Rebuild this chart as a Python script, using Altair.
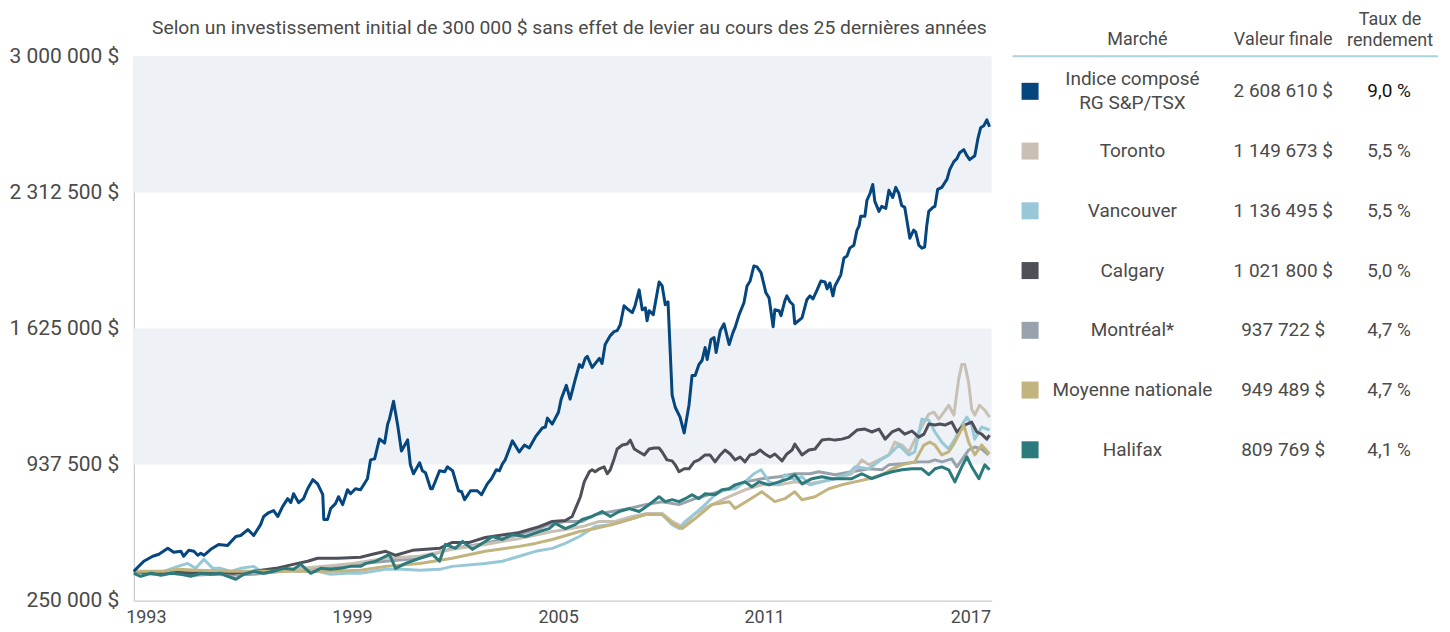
import altair as alt
import pandas as pd

FONT = "Roboto"
TXT = "#4a4a4a"

TITLE = "Selon un investissement initial de 300 000 $ sans effet de levier au cours des 25 dernières années"

x_ticks = [1993, 1999, 2005, 2011, 2017]
y_ticks = [250000, 937500, 1625000, 2312500, 3000000]
band_lo = [937500, 2312500]
band_hi = [1625000, 3000000]

markets = ["Indice composé\nRG S&P/TSX", "Toronto", "Vancouver", "Calgary",
           "Montréal*", "Moyenne nationale", "Halifax"]
final_values = [2608610, 1149673, 1136495, 1021800, 937722, 949489, 809769]
rates = ["9,0 %", "5,5 %", "5,5 %", "5,0 %", "4,7 %", "4,7 %", "4,1 %"]
colors = ["#05467e", "#c9c0b5", "#98c8d7", "#4d5059", "#98a2ac", "#c2b47e", "#2c7a7c"]
rate_colors = ["#111111", TXT, TXT, TXT, TXT, TXT, TXT]
headers = ["Marché", "Valeur finale", "Taux de\nrendement"]

# values in thousands of dollars
tsx_years = [1992.65,1992.94,1993.20,1993.38,1993.64,1993.81,1994.02,1994.10,1994.25,1994.40,
 1994.51,1994.60,1994.69,1994.89,1995.12,1995.38,1995.62,1995.76,1995.97,1996.14,
 1996.34,1996.43,1996.58,1996.72,1996.84,1996.98,1997.13,1997.22,1997.30,1997.45,
 1997.59,1997.71,1997.86,1998.00,1998.15,1998.18,1998.29,1998.38,1998.52,1998.61,
 1998.73,1998.87,1998.96,1999.10,1999.25,1999.45,1999.54,1999.66,1999.80,1999.95,
 2000.04,2000.09,2000.21,2000.33,2000.44,2000.62,2000.70,2000.79,2000.97,2001.05,
 2001.14,2001.29,2001.34,2001.55,2001.70,2001.78,2001.93,2002.10,2002.19,2002.28,
 2002.45,2002.65,2002.77,2002.94,2003.06,2003.20,2003.29,2003.38,2003.46,2003.67,
 2003.87,2004.02,2004.16,2004.34,2004.54,2004.63,2004.69,2004.83,2005.01,2005.09,
 2005.24,2005.35,2005.50,2005.62,2005.70,2005.79,2005.85,2005.99,2006.20,2006.28,
 2006.37,2006.52,2006.63,2006.72,2006.81,2006.92,2007.01,2007.16,2007.24,2007.36,
 2007.45,2007.54,2007.59,2007.65,2007.77,2007.94,2008.03,2008.12,2008.20,2008.32,
 2008.41,2008.55,2008.67,2008.81,2008.90,2008.99,2009.10,2009.19,2009.28,2009.34,
 2009.45,2009.54,2009.60,2009.72,2009.83,2009.98,2010.09,2010.15,2010.27,2010.41,
 2010.50,2010.59,2010.70,2010.79,2010.91,2011.05,2011.14,2011.26,2011.31,2011.43,
 2011.49,2011.60,2011.66,2011.75,2011.84,2011.89,2012.10,2012.24,2012.33,2012.42,
 2012.54,2012.65,2012.77,2012.83,2012.91,2013.00,2013.06,2013.23,2013.32,2013.41,
 2013.49,2013.61,2013.70,2013.76,2013.81,2013.93,2013.99,2014.08,2014.16,2014.22,
 2014.34,2014.42,2014.54,2014.63,2014.74,2014.83,2014.92,2015.00,2015.09,2015.24,
 2015.35,2015.41,2015.50,2015.59,2015.67,2015.73,2015.79,2015.91,2015.97,2016.05,
 2016.17,2016.26,2016.32,2016.40,2016.52,2016.61,2016.69,2016.81,2016.90,2016.98,
 2017.13,2017.22,2017.30,2017.39,2017.48,2017.56]
tsx_vals = [398,449,474,484,514,494,499,474,504,499,
 479,489,479,509,534,529,574,579,609,579,
 634,675,695,705,675,725,765,745,790,745,
 765,815,861,840,785,660,660,715,740,775,
 735,810,790,815,810,866,961,966,1067,1046,
 1142,1167,1257,1137,1006,1062,936,891,946,906,
 896,815,815,906,901,926,906,805,800,760,
 805,805,785,840,866,911,906,941,961,1057,
 1001,1036,1021,1077,1122,1127,1172,1142,1202,1268,
 1338,1268,1368,1443,1428,1474,1484,1428,1474,1448,
 1544,1589,1609,1614,1644,1740,1725,1705,1740,1820,
 1720,1730,1664,1715,1695,1860,1840,1745,1760,1288,
 1227,1177,1097,1237,1388,1388,1443,1463,1529,1468,
 1569,1579,1504,1614,1649,1544,1604,1629,1695,1755,
 1840,1865,1941,1936,1906,1805,1780,1634,1720,1715,
 1690,1765,1790,1760,1745,1649,1679,1770,1790,1775,
 1820,1865,1860,1825,1855,1790,1840,1896,1981,1991,
 2031,2046,2122,2142,2192,2192,2272,2307,2353,2267,
 2217,2242,2232,2323,2287,2338,2307,2247,2237,2081,
 2122,2112,2046,2031,2036,2142,2217,2237,2242,2328,
 2338,2363,2378,2428,2468,2483,2513,2529,2498,2478,
 2498,2584,2639,2649,2679,2644]

toronto = [(1992.65,398),(1993.20,393),(1993.79,398),(1994.37,393),(1994.95,398),(1995.53,388),
 (1996.11,393),(1996.69,403),(1997.27,408),(1997.86,418),(1998.44,428),(1999.02,438),(1999.98,464),
 (2000.97,474),(2001.92,509),(2002.88,534),(2003.87,564),(2004.83,599),(2005.21,609),(2005.70,624),
 (2006.20,650),(2006.66,650),(2007.16,675),(2007.59,690),(2008.03,690),(2008.32,650),(2008.61,624),
 (2008.99,690),(2009.48,735),(2009.98,775),(2010.44,810),(2010.93,835),(2011.43,835),(2011.89,850),
 (2012.30,840),(2012.59,850),(2013.06,866),(2013.55,891),(2013.84,961),(2014.05,936),(2014.34,961),
 (2014.63,986),(2014.80,1051),(2015.01,1036),(2015.21,1001),(2015.50,1102),(2015.79,1192),
 (2015.94,1202),(2016.08,1167),(2016.23,1202),(2016.37,1237),(2016.52,1187),(2016.66,1368),
 (2016.75,1443),(2016.84,1443),(2016.95,1353),(2017.04,1217),(2017.13,1187),(2017.27,1237),
 (2017.42,1212),(2017.56,1177)]

vancouver = [(1992.65,398),(1993.15,388),(1993.52,398),(1993.93,423),(1994.22,438),(1994.45,413),
 (1994.69,459),(1994.95,413),(1995.18,413),(1995.47,398),(1995.76,413),(1996.14,423),(1996.43,388),
 (1996.72,398),(1997.01,408),(1997.42,398),(1998.00,398),(1998.38,383),(1998.87,388),(1999.25,388),
 (1999.98,408),(2000.47,408),(2000.97,403),(2001.55,408),(2001.92,423),(2002.88,438),(2003.38,449),
 (2003.87,474),(2004.34,499),(2004.83,514),(2005.21,539),(2005.62,574),(2006.08,624),(2006.57,634),
 (2007.07,660),(2007.54,685),(2008.03,685),(2008.32,634),(2008.52,614),(2008.70,650),(2008.99,690),
 (2009.28,735),(2009.57,785),(2009.86,810),(2010.15,815),(2010.44,850),(2010.70,891),(2010.91,911),
 (2011.14,850),(2011.43,835),(2011.60,886),(2011.89,860),(2012.10,876),(2012.33,835),(2012.68,850),
 (2013.06,866),(2013.46,891),(2013.64,926),(2014.05,916),(2014.43,966),(2014.63,986),(2014.92,1036),
 (2015.21,986),(2015.38,1001),(2015.59,1167),(2015.79,1162),(2015.97,1102),(2016.17,1051),
 (2016.37,1016),(2016.55,1066),(2016.75,1137),(2016.90,1177),(2017.04,1137),(2017.13,1066),
 (2017.33,1127),(2017.56,1112)]

calgary = [(1992.65,398),(1993.20,388),(1993.79,393),(1994.37,388),(1994.95,398),(1995.53,388),
 (1996.11,398),(1996.78,413),(1997.42,438),(1997.71,449),(1998.00,464),(1998.58,464),(1999.25,469),
 (1999.60,484),(1999.98,499),(2000.27,479),(2000.76,504),(2001.55,514),(2001.92,544),(2002.42,544),
 (2002.88,569),(2003.47,584),(2003.87,594),(2004.45,624),(2004.83,650),(2005.21,655),(2005.41,675),
 (2005.53,725),(2005.65,775),(2005.76,850),(2005.91,901),(2005.99,911),(2006.08,901),(2006.20,916),
 (2006.34,926),(2006.43,891),(2006.52,911),(2006.63,966),(2006.72,1016),(2006.87,1036),(2007.01,1041),
 (2007.10,1061),(2007.22,1016),(2007.36,1001),(2007.51,986),(2007.65,1016),(2007.80,1021),
 (2007.94,1021),(2008.03,1001),(2008.17,961),(2008.32,956),(2008.41,936),(2008.52,901),(2008.67,916),
 (2008.81,916),(2008.96,951),(2009.10,961),(2009.28,986),(2009.42,986),(2009.57,951),(2009.72,986),
 (2009.86,1011),(2010.01,991),(2010.15,961),(2010.30,976),(2010.44,951),(2010.59,986),(2010.73,991),
 (2010.88,1011),(2011.02,991),(2011.17,976),(2011.31,991),(2011.52,956),(2011.66,991),(2011.81,1011),
 (2011.89,1041),(2012.10,986),(2012.30,1011),(2012.48,1016),(2012.68,1061),(2012.88,1066),
 (2013.06,1061),(2013.26,1066),(2013.46,1076),(2013.70,1112),(2013.93,1117),(2014.13,1102),
 (2014.34,1117),(2014.52,1066),(2014.72,1102),(2014.92,1117),(2015.09,1091),(2015.30,1107),
 (2015.50,1076),(2015.65,1091),(2015.79,1142),(2015.97,1137),(2016.11,1142),(2016.26,1137),
 (2016.46,1152),(2016.61,1102),(2016.75,1127),(2016.90,1142),(2017.04,1152),(2017.19,1102),
 (2017.33,1091),(2017.48,1066),(2017.56,1086)]

montreal = [(1992.65,398),(1993.20,383),(1993.79,388),(1994.37,378),(1994.95,383),(1995.53,378),
 (1996.11,383),(1996.69,393),(1997.27,403),(1997.86,413),(1998.44,418),(1999.02,433),(1999.98,449),
 (2000.97,464),(2001.92,514),(2002.88,539),(2003.87,584),(2004.34,609),(2004.83,640),(2005.21,650),
 (2005.70,650),(2006.08,685),(2006.57,700),(2007.07,715),(2007.54,735),(2008.03,750),(2008.52,735),
 (2008.99,765),(2009.48,790),(2009.98,815),(2010.44,850),(2010.93,866),(2011.43,876),(2011.89,891),
 (2012.33,891),(2012.59,901),(2013.06,886),(2013.55,901),(2014.05,916),(2014.43,911),(2014.63,936),
 (2015.01,941),(2015.50,951),(2015.79,951),(2015.97,961),(2016.17,951),(2016.46,966),(2016.61,926),
 (2016.75,961),(2016.95,1011),(2017.13,1026),(2017.33,1016),(2017.53,986)]

moyenne = [(1992.65,398),(1993.52,398),(1993.93,408),(1994.51,403),(1995.47,398),(1996.43,398),
 (1997.42,398),(1998.38,398),(1999.25,403),(1999.98,423),(2000.97,438),(2001.92,464),(2002.88,499),
 (2003.87,524),(2004.34,539),(2004.83,559),(2005.33,584),(2005.62,599),(2006.08,614),(2006.57,634),
 (2007.07,660),(2007.54,685),(2008.03,685),(2008.32,640),(2008.61,614),(2008.99,665),(2009.48,735),
 (2009.98,750),(2010.15,715),(2010.56,760),(2010.93,800),(2011.31,750),(2011.60,765),(2011.89,800),
 (2012.10,760),(2012.48,775),(2012.88,815),(2013.26,835),(2013.64,850),(2014.05,866),(2014.43,886),
 (2014.72,916),(2015.01,936),(2015.38,951),(2015.65,1036),(2015.82,1051),(2015.97,1036),
 (2016.17,986),(2016.37,1001),(2016.55,1051),(2016.81,1137),(2016.95,1051),(2017.13,986),
 (2017.33,1036),(2017.56,991)]

halifax = [(1992.65,388),(1992.85,373),(1993.15,388),(1993.44,378),(1993.73,388),(1994.02,383),
 (1994.31,373),(1994.60,388),(1994.89,383),(1995.18,388),(1995.38,373),(1995.62,358),(1995.85,383),
 (1996.14,398),(1996.43,388),(1996.72,398),(1997.01,413),(1997.30,408),(1997.51,433),(1997.80,388),
 (1998.09,413),(1998.38,408),(1998.67,413),(1998.96,423),(1999.25,423),(1999.40,438),(1999.69,449),
 (2000.09,484),(2000.27,413),(2000.56,438),(2000.97,464),(2001.34,484),(2001.55,449),(2001.72,534),
 (2002.01,514),(2002.22,549),(2002.51,509),(2002.88,549),(2003.09,574),(2003.38,559),(2003.67,584),
 (2004.05,574),(2004.45,599),(2004.74,614),(2004.92,640),(2005.21,614),(2005.50,634),(2005.70,660),
 (2005.99,675),(2006.28,700),(2006.52,675),(2006.78,700),(2007.07,715),(2007.36,700),(2007.65,735),
 (2007.94,775),(2008.12,750),(2008.32,760),(2008.52,750),(2008.70,765),(2008.90,785),(2009.10,765),
 (2009.28,790),(2009.57,785),(2009.77,810),(2009.98,815),(2010.15,835),(2010.44,850),(2010.64,825),
 (2010.85,850),(2011.14,835),(2011.43,850),(2011.72,866),(2011.89,886),(2012.10,840),(2012.39,866),
 (2012.68,876),(2012.97,866),(2013.26,866),(2013.55,866),(2013.84,891),(2014.13,866),(2014.43,886),
 (2014.72,901),(2015.01,911),(2015.30,916),(2015.59,916),(2015.79,886),(2015.97,916),(2016.17,926),
 (2016.37,911),(2016.55,850),(2016.75,926),(2016.90,976),(2017.04,926),(2017.25,866),(2017.42,936),
 (2017.56,911)]

# ---------------------------------------------------------------- left panel
W, H = 859, 545
xs = alt.Scale(domain=[1992.65, 2017.62], nice=False, zero=False)
ys = alt.Scale(domain=[250000, 3000000], nice=False, zero=False)

x_axis = alt.Axis(values=x_ticks, format="d", title=None, grid=False, ticks=False, tickSize=0,
                  labelPadding=8, labelFontSize=18, labelColor=TXT, labelFont=FONT,
                  domainColor="#c9c9c9", domainWidth=1.2, labelFlush=False)
y_axis = alt.Axis(values=y_ticks, title=None, grid=False, ticks=False, tickSize=0,
                  labelPadding=15, labelFontSize=21, labelColor=TXT, labelFont=FONT,
                  domainColor="#c9c9c9", domainWidth=1.2, labelFlush=False,
                  labelExpr="replace(format(datum.value, ',.0f'), regexp(',', 'g'), ' ') + ' $'")

bands = alt.Chart(pd.DataFrame({"lo": band_lo, "hi": band_hi})).mark_rect(color="#eef2f6").encode(
    x=alt.value(0), x2=alt.value(W),
    y=alt.Y("lo:Q", scale=ys, axis=y_axis), y2="hi:Q")


def line_layer(years, vals, color, width=3.0):
    df = pd.DataFrame({"year": years, "value": [v * 1000 for v in vals]})
    return alt.Chart(df).mark_line(color=color, strokeWidth=width, strokeJoin="round").encode(
        x=alt.X("year:Q", scale=xs, axis=x_axis),
        y=alt.Y("value:Q", scale=ys, axis=y_axis))


city = {1: toronto, 2: vancouver, 3: calgary, 4: montreal, 5: moyenne, 6: halifax}
draw_order = [4, 1, 2, 3, 5, 6]
lines = []
for i in draw_order:
    yrs = [p[0] for p in city[i]]
    vals = [p[1] for p in city[i]]
    lines.append(line_layer(yrs, vals, colors[i]))
lines.append(line_layer(tsx_years, tsx_vals, colors[0], 3.0))

one = pd.DataFrame({"t": [TITLE]})
title = alt.Chart(one).mark_text(align="right", baseline="middle", fontSize=19.3, font=FONT,
                                 color=TXT).encode(x=alt.value(854), y=alt.value(-28), text="t:N")
anchor = alt.Chart(one).mark_point(size=1, opacity=0).encode(x=alt.value(-123), y=alt.value(-47))

left = alt.layer(bands, *lines, title, anchor).properties(width=W, height=H)

# ---------------------------------------------------------------- right panel (table)
def money(v):
    return f"{v:,}".replace(",", " ") + " $"


tbl = pd.DataFrame({
    "row": list(range(len(markets))),
    "market": markets,
    "final": [money(v) for v in final_values],
    "rate": rates,
    "color": colors,
    "rcolor": rate_colors,
    "lines": [m.count("\n") + 1 for m in markets],
})
rs = alt.Scale(domain=[0, 6], range=[35, 394])
base = alt.Chart(tbl).encode(y=alt.Y("row:Q", scale=rs, axis=None))

squares = base.mark_square(size=290, opacity=1).encode(
    x=alt.value(18.5), color=alt.Color("color:N", scale=None))
names1 = base.transform_filter(alt.datum.lines == 1).mark_text(
    fontSize=19, font=FONT, color=TXT, baseline="middle").encode(x=alt.value(121), text="market:N")
names2 = base.transform_filter(alt.datum.lines == 2).mark_text(
    fontSize=19, font=FONT, color=TXT, baseline="middle", lineBreak="\n", lineHeight=24,
    dy=-12).encode(x=alt.value(121), text="market:N")
finals = base.mark_text(fontSize=19, font=FONT, color=TXT, baseline="middle").encode(
    x=alt.value(272), text="final:N")
rate_t = base.mark_text(fontSize=19, font=FONT, baseline="middle").encode(
    x=alt.value(378), text="rate:N", color=alt.Color("rcolor:N", scale=None))

hdr_df = pd.DataFrame({"h": headers})
h1 = alt.Chart(hdr_df).transform_filter(alt.datum.h == headers[0]).mark_text(
    fontSize=18, font=FONT, color=TXT, baseline="middle").encode(
    x=alt.value(126), y=alt.value(-16), text="h:N")
h2 = alt.Chart(hdr_df).transform_filter(alt.datum.h == headers[1]).mark_text(
    fontSize=18, font=FONT, color=TXT, baseline="middle").encode(
    x=alt.value(272), y=alt.value(-16), text="h:N")
h3 = alt.Chart(hdr_df).transform_filter(alt.datum.h == headers[2]).mark_text(
    fontSize=18, font=FONT, color=TXT, baseline="middle", lineBreak="\n", lineHeight=21).encode(
    x=alt.value(379), y=alt.value(-36), text="h:N")
hline = alt.Chart(one).mark_rule(color="#a9d3de", strokeWidth=2).encode(
    x=alt.value(1), x2=alt.value(427), y=alt.value(0))

table = alt.layer(hline, squares, names1, names2, finals, rate_t, h1, h2, h3).properties(
    width=430, height=H)

chart = alt.hconcat(left, table, spacing=20, bounds="flush").properties(
    padding=0, background="white"
).configure_view(stroke="transparent")

chart.save("out.html", embed_options={"renderer": "svg", "actions": False})
